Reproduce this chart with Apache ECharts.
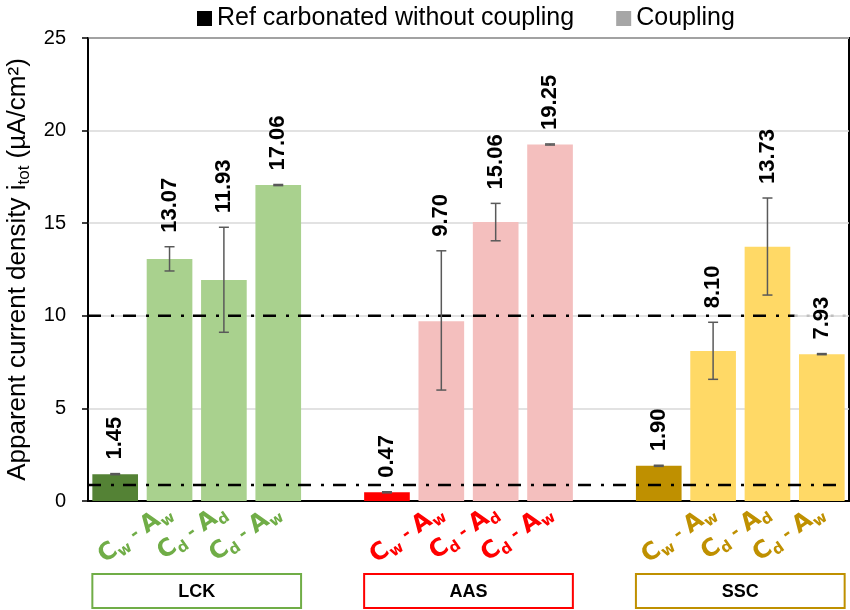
<!DOCTYPE html>
<html>
<head>
<meta charset="utf-8">
<script src="https://cdn.jsdelivr.net/npm/echarts@6/dist/echarts.min.js"></script>
<style>html,body{margin:0;padding:0;background:#fff}#c{width:850px;height:610px}</style>
</head>
<body>
<div id="c"></div>
<script>
// ---- data ----
const groups = ['LCK', 'AAS', 'SSC'];
const conditions = ['Cw-Aw', 'Cd-Ad', 'Cd-Aw'];
const refValues = [1.45, 0.47, 1.90];
const refErrLow = [1.42, 0.44, 1.87];
const refErrHigh = [1.48, 0.50, 1.93];
const lckValues = [13.07, 11.93, 17.06];
const aasValues = [9.70, 15.06, 19.25];
const sscValues = [8.10, 13.73, 7.93];
const lckErrLow = [12.42, 9.11, 17.03];
const lckErrHigh = [13.73, 14.78, 17.09];
const aasErrLow = [5.99, 14.05, 19.22];
const aasErrHigh = [13.51, 16.07, 19.28];
const sscErrLow = [6.57, 11.12, 7.90];
const sscErrHigh = [9.65, 16.36, 7.96];
const thresholdHigh = 10;
const thresholdLow = 0.87;
const yTicks = [0, 5, 10, 15, 20, 25];

// ---- styling ----
const refColors = ['#548235', '#FF0000', '#BF9000'];
const lightColors = ['#A9D18E', '#F4BFBE', '#FFD966'];
const textColors = ['#70AD47', '#FF0000', '#BF9000'];
const FONT = '"Liberation Sans", Arial, sans-serif';

const couplingValues = [lckValues, aasValues, sscValues];
const couplingLow = [lckErrLow, aasErrLow, sscErrLow];
const couplingHigh = [lckErrHigh, aasErrHigh, sscErrHigh];

// build 14 slots: 4 per group + 1 empty between groups
const categories = [];
const refData = [];
const coupData = [];
const errData = [];
const slotGroup = [];
groups.forEach((g, gi) => {
  if (gi > 0) { categories.push(''); refData.push('-'); coupData.push('-'); slotGroup.push(-1); }
  const base = categories.length;
  categories.push('');
  slotGroup.push(gi);
  refData.push({ value: refValues[gi], itemStyle: { color: refColors[gi] } });
  coupData.push('-');
  errData.push([base, refErrLow[gi], refErrHigh[gi], refValues[gi]]);
  conditions.forEach((c, ci) => {
    categories.push(c);
    slotGroup.push(gi);
    refData.push('-');
    coupData.push({ value: couplingValues[gi][ci], itemStyle: { color: lightColors[gi] } });
    errData.push([base + 1 + ci, couplingLow[gi][ci], couplingHigh[gi][ci], couplingValues[gi][ci]]);
  });
});
const nSlots = categories.length;

const rich = {};
textColors.forEach((col, i) => {
  rich['m' + i] = { color: col, fontSize: 24, fontWeight: 'bold', fontFamily: '"DejaVu Sans", sans-serif', lineHeight: 30 };
  rich['h' + i] = { color: col, fontSize: 18, fontWeight: 'bold', fontFamily: '"DejaVu Sans", sans-serif', lineHeight: 30 };
  rich['s' + i] = { color: col, fontSize: 15, fontWeight: 'bold', fontFamily: '"DejaVu Sans", sans-serif', lineHeight: 16, verticalAlign: 'bottom' };
});

const chart = echarts.init(document.getElementById('c'), null, { renderer: 'canvas' });
chart.setOption({
  animation: false,
  backgroundColor: '#fff',
  legend: {
    data: [
      { name: 'Ref carbonated without coupling', itemStyle: { color: '#000' } },
      { name: 'Coupling', itemStyle: { color: '#A6A6A6' } }
    ],
    top: 1, left: 192,
    icon: 'rect', itemWidth: 15, itemHeight: 15, itemGap: 42,
    textStyle: { fontSize: 25, fontFamily: FONT, color: '#000' }
  },
  grid: { left: 88, right: 1, top: 38, bottom: 109, show: true, borderColor: '#000', borderWidth: 2, containLabel: false, outerBoundsMode: 'none' },
  xAxis: [{
    type: 'category', data: categories,
    axisLine: { lineStyle: { color: '#000', width: 2 } },
    axisTick: { show: false },
    axisLabel: {
      interval: 0, rotate: 35, margin: 9,
      formatter: function (v, i) {
        if (!v) return '';
        const gi = slotGroup[i];
        const p = v.split('-');
        return '{m' + gi + '|' + p[0][0] + '}{s' + gi + '|' + p[0][1] + '}{h' + gi + '| - }{m' + gi + '|' + p[1][0] + '}{s' + gi + '|' + p[1][1] + '}';
      },
      rich: rich
    }
  }, {
    type: 'value', min: -0.5, max: nSlots - 0.5, show: false
  }],
  yAxis: {
    type: 'value', min: yTicks[0], max: yTicks[yTicks.length - 1], interval: 5,
    name: 'Apparent current density i{sub|tot} (µA/cm²)',
    nameLocation: 'middle', nameGap: 52,
    nameTextStyle: { fontSize: 26, fontFamily: FONT, color: '#000', lineHeight: 30,
      rich: { sub: { fontSize: 17, fontFamily: FONT, color: '#000', lineHeight: 16, verticalAlign: 'bottom' } } },
    axisLine: { show: true, onZero: false, lineStyle: { color: '#000', width: 1.5 } },
    axisTick: { show: true, inside: false, length: 6, lineStyle: { color: '#000', width: 1.5 } },
    axisLabel: { fontSize: 20, fontFamily: FONT, color: '#000', margin: 22 },
    splitLine: { lineStyle: { color: '#D9D9D9', width: 1.5 } }
  },
  series: [
    { name: 'Ref carbonated without coupling', type: 'bar', data: refData, barGap: '-100%', barCategoryGap: '16%', itemStyle: { color: '#000' }, z: 2 },
    { name: 'Coupling', type: 'bar', data: coupData, barGap: '-100%', barCategoryGap: '16%', itemStyle: { color: '#A6A6A6' }, z: 2 },
    {
      type: 'custom', name: 'err', data: errData, z: 5,
      encode: { x: 0, y: [1, 2] },
      renderItem: function (params, api) {
        const idx = api.value(0);
        const lo = api.coord([idx, api.value(1)]);
        const hi = api.coord([idx, api.value(2)]);
        const cap = 5;
        const st = { stroke: '#595959', lineWidth: 1.5 };
        return {
          type: 'group', children: [
            { type: 'line', shape: { x1: lo[0], y1: lo[1], x2: hi[0], y2: hi[1] }, style: st },
            { type: 'line', shape: { x1: lo[0] - cap, y1: lo[1], x2: lo[0] + cap, y2: lo[1] }, style: st },
            { type: 'line', shape: { x1: hi[0] - cap, y1: hi[1], x2: hi[0] + cap, y2: hi[1] }, style: st },
            { type: 'text', x: hi[0], y: hi[1] - 14, rotation: Math.PI / 2,
              style: { text: api.value(3).toFixed(2), align: 'left', verticalAlign: 'middle', fill: '#000', fontSize: 22, fontWeight: 'bold', fontFamily: FONT } }
          ]
        };
      }
    },
    { type: 'line', xAxisIndex: 1, data: [[-0.5, thresholdHigh], [12.5, thresholdHigh]], symbol: 'none', z: 4,
      lineStyle: { color: '#000', width: 2.5, type: [13, 10, 3, 9] }, silent: true },
    { type: 'line', xAxisIndex: 1, data: [[12.5, thresholdHigh], [13.5, thresholdHigh]], symbol: 'none', z: 4,
      lineStyle: { color: '#BFBFBF', width: 2.5, type: [3, 9] }, silent: true },
    { type: 'line', xAxisIndex: 1, data: [[-0.5, thresholdLow], [13.4, thresholdLow]], symbol: 'none', z: 4,
      lineStyle: { color: '#000', width: 2.5, type: [13, 10, 3, 9] }, silent: true }
  ]
});

// group boxes under the axis
const graphics = [];
const slotW = chart.convertToPixel({ xAxisIndex: 0 }, 1) - chart.convertToPixel({ xAxisIndex: 0 }, 0);
groups.forEach((g, gi) => {
  const first = gi * 5;
  const last = first + 3;
  const x0 = chart.convertToPixel({ xAxisIndex: 0 }, first) - slotW * 0.42;
  const x1 = chart.convertToPixel({ xAxisIndex: 0 }, last) + slotW * 0.42;
  graphics.push({
    type: 'rect', shape: { x: x0, y: 574, width: x1 - x0, height: 34 },
    style: { fill: '#fff', stroke: textColors[gi], lineWidth: 2 }
  });
  graphics.push({
    type: 'text', x: (x0 + x1) / 2, y: 592,
    style: { text: g, align: 'center', verticalAlign: 'middle', fill: '#000', fontSize: 18, fontWeight: 'bold', fontFamily: FONT }
  });
});
chart.setOption({ graphic: graphics });
</script>
</body>
</html>
